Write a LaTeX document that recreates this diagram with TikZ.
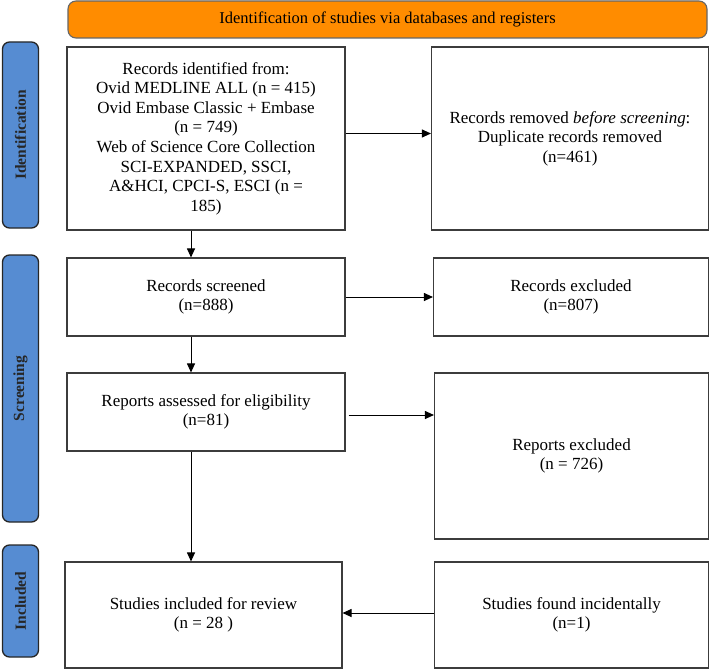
\documentclass[tikz,border=0pt]{standalone}
\usepackage{fontspec}
\setmainfont{Liberation Serif}
\usetikzlibrary{arrows.meta}
\definecolor{bannerorange}{RGB}{255,140,0}
\definecolor{barblue}{RGB}{86,140,210}
\definecolor{edgegray}{RGB}{60,60,60}
\begin{document}
\begin{tikzpicture}[x=1pt,y=-1pt,
  box/.style={draw=edgegray,line width=1.1pt,fill=white,align=center,inner sep=2pt,
    font=\fontsize{17}{19.6}\selectfont},
  sidebar/.style={draw=black!85,line width=1.3pt,fill=barblue,rounded corners=7pt,
    minimum height=36pt,inner sep=0pt,rotate=90,font=\fontsize{15.5}{17}\selectfont\bfseries,text=black!85},
  arr/.style={-{Triangle[length=9pt,width=8pt]},line width=1pt,black}]
\useasboundingbox (0,0) rectangle (710,669);
% banner
\node[draw=black!60,line width=1.1pt,fill=bannerorange,rounded corners=8pt,
  minimum width=639pt,minimum height=37pt,font=\fontsize{16.5}{18}\selectfont]
  (banner) at (387.5,19.5) {Identification of studies via databases and registers};
% side bars
\node[sidebar,minimum width=186pt] (sid) at (20.5,135) {Identification};
\node[sidebar,minimum width=267pt] (sscr) at (20.5,388.5) {Screening};
\node[sidebar,minimum width=112pt] (sinc) at (20.5,601) {Included};
% boxes
\node[box,minimum width=278pt,minimum height=183pt] (b1) at (206,138.5)
  {Records identified from:\\Ovid MEDLINE ALL (n = 415)\\Ovid Embase Classic + Embase\\(n = 749)\\Web of Science Core Collection\\SCI-EXPANDED, SSCI,\\A\&HCI, CPCI-S, ESCI (n =\\185)};
\node[box,minimum width=277pt,minimum height=183pt] (b2) at (570,138.5)
  {Records removed \textit{before screening}:\\Duplicate records removed\\(n=461)};
\node[box,minimum width=278pt,minimum height=78pt] (scr) at (206,297)
  {Records screened\\(n=888)};
\node[box,minimum width=275pt,minimum height=78pt] (exc) at (571,297)
  {Records excluded\\(n=807)};
\node[box,minimum width=278pt,minimum height=78pt] (ass) at (206,412)
  {Reports assessed for eligibility\\(n=81)};
\node[box,minimum width=274pt,minimum height=166pt] (rexc) at (571.5,456)
  {Reports excluded\\(n = 726)};
\node[box,minimum width=277pt,minimum height=106pt] (inc) at (203.5,615)
  {Studies included for review\\(n = 28 )};
\node[box,minimum width=274pt,minimum height=106pt] (found) at (571.5,615)
  {Studies found incidentally\\(n=1)};
% arrow anchors
\coordinate (a3) at ([xshift=3pt,yshift=-3pt]ass.east);
% arrows
\draw[arr] ([yshift=5pt]b1.east) -- ([yshift=5pt]b2.west);
\draw[arr] ([xshift=-15pt]b1.south) -- ([xshift=-15pt]scr.north);
\draw[arr] (scr.east) -- (exc.west);
\draw[arr] ([xshift=-15pt]scr.south) -- ([xshift=-15pt]ass.north);
\draw[arr] (a3) -- (rexc.west |- a3);
\draw[arr] ([xshift=-15pt]ass.south) -- ([xshift=-12.5pt]inc.north);
\draw[arr] ([yshift=2pt]found.west) -- ([yshift=2pt]inc.east);
\end{tikzpicture}
\end{document}
